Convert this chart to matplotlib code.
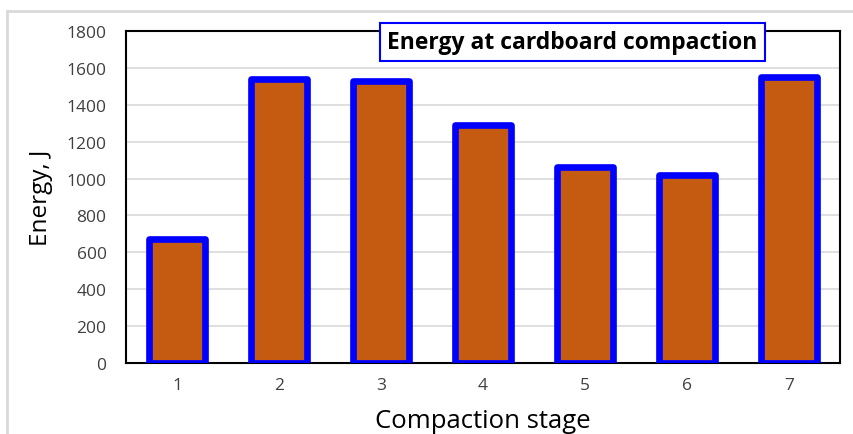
import matplotlib
matplotlib.use("Agg")
import matplotlib.pyplot as plt
from matplotlib.lines import Line2D

stages = ["1", "2", "3", "4", "5", "6", "7"]
energy = [670, 1540, 1530, 1290, 1060, 1020, 1550]
y_ticks = [0, 200, 400, 600, 800, 1000, 1200, 1400, 1600, 1800]

plt.rcParams["font.family"] = ["Open Sans", "DejaVu Sans"]

fig = plt.figure(figsize=(8.54, 4.35), dpi=100)
ax = fig.add_axes([126 / 854, 1 - 364 / 435, (840 - 126) / 854, (364 - 32) / 435])

x = list(range(len(stages)))
ax.bar(x, energy, width=0.55, color="#c55a11", edgecolor="#0000ff",
       linewidth=4.8, joinstyle="round", zorder=3)

ax.set_xlim(-0.5, len(stages) - 0.5)
ax.set_ylim(0, 1800)
ax.set_yticks(y_ticks)
ax.set_xticks(x)
ax.set_xticklabels(stages)
ax.tick_params(axis="both", length=0, labelsize=12.5, colors="#404040", pad=14)
ax.tick_params(axis="x", pad=10)
ax.grid(axis="y", color="#d9d9d9", linewidth=1.2, zorder=0)
ax.set_axisbelow(True)
for s in ax.spines.values():
    s.set_color("black")
    s.set_linewidth(1.5)

ax.set_ylabel("Energy, J", fontsize=17.5, color="black", labelpad=10)
ax.set_xlabel("Compaction stage", fontsize=18.5, color="black", labelpad=11)

ax.text(0.625, 0.967, "Energy at cardboard compaction", transform=ax.transAxes,
        ha="center", va="center", fontsize=16.5, fontweight="bold", color="black",
        bbox=dict(boxstyle="square,pad=0.32", facecolor="white",
                  edgecolor="#0000ff", linewidth=1.5), zorder=5)

# outer chart-area frame (left and top edges)
fig.add_artist(Line2D([7 / 854, 7 / 854], [0, 1 - 12 / 435], transform=fig.transFigure,
                      color="#d9d9d9", linewidth=2))
fig.add_artist(Line2D([7 / 854, 1], [1 - 12 / 435, 1 - 12 / 435], transform=fig.transFigure,
                      color="#d9d9d9", linewidth=2))

fig.savefig("out.png", dpi=100)
